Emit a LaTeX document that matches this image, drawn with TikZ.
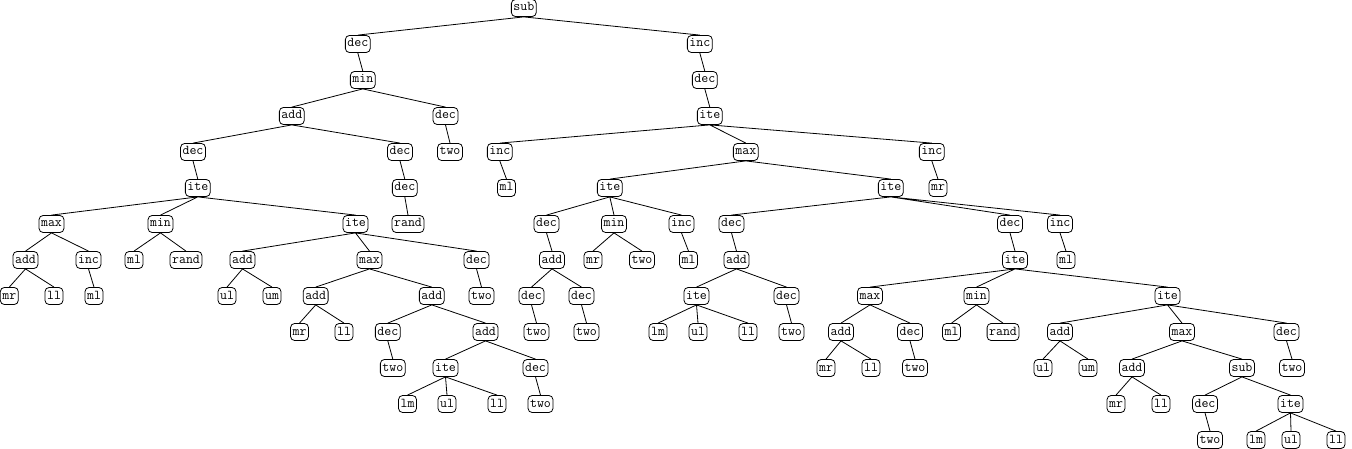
\documentclass[tikz,border=0pt]{standalone}
\usepackage{tikz}

\begin{document}
\begin{tikzpicture}[
  x=1pt, y=-1pt,
  font=\fontsize{13.5}{14}\selectfont\ttfamily,
  fn/.style={draw,rounded corners=4pt,line width=0.8pt,inner xsep=2pt,inner ysep=0pt,minimum height=17pt,text height=8.5pt,text depth=2.5pt},
  link/.style={line width=0.8pt}
]
\useasboundingbox (0,0) rectangle (1352,449);
\node[fn] (sub1) at (523.8,8) {sub};
\node[fn] (dec1) at (357.8,44) {dec};
\node[fn] (min1) at (362.8,80) {min};
\node[fn] (add1) at (291.8,116) {add};
\node[fn] (dec2) at (193,152) {dec};
\node[fn] (ite1) at (197.8,188) {ite};
\node[fn] (max1) at (51.5,224) {max};
\node[fn] (add2) at (25.5,260) {add};
\node[fn] (mr1) at (9.3,296) {mr};
\node[fn] (ll1) at (54,296) {ll};
\node[fn] (inc1) at (88.5,260) {inc};
\node[fn] (ml1) at (94,296) {ml};
\node[fn] (min2) at (160.5,224) {min};
\node[fn] (ml2) at (134,260) {ml};
\node[fn] (rand1) at (186,260) {rand};
\node[fn] (ite2) at (355.5,224) {ite};
\node[fn] (add3) at (242.5,260) {add};
\node[fn] (ul1) at (227,296) {ul};
\node[fn] (um1) at (272,296) {um};
\node[fn] (max2) at (369.5,260) {max};
\node[fn] (add4) at (315.7,296) {add};
\node[fn] (mr2) at (299.5,332) {mr};
\node[fn] (ll2) at (344,332) {ll};
\node[fn] (add5) at (431.8,296) {add};
\node[fn] (dec3) at (387.8,332) {dec};
\node[fn] (two1) at (392.8,368) {two};
\node[fn] (add6) at (485.5,332) {add};
\node[fn] (ite3) at (445.5,368) {ite};
\node[fn] (lm1) at (407.5,404) {lm};
\node[fn] (ul2) at (447,404) {ul};
\node[fn] (ll3) at (497,404) {ll};
\node[fn] (dec4) at (535.5,368) {dec};
\node[fn] (two2) at (540.5,404) {two};
\node[fn] (dec5) at (476.5,260) {dec};
\node[fn] (two3) at (481.5,296) {two};
\node[fn] (dec6) at (400,152) {dec};
\node[fn] (dec7) at (404.8,188) {dec};
\node[fn] (rand2) at (408,224) {rand};
\node[fn] (dec8) at (445.5,116) {dec};
\node[fn] (two4) at (450,152) {two};
\node[fn] (inc2) at (699.8,44) {inc};
\node[fn] (dec9) at (704.8,80) {dec};
\node[fn] (ite4) at (709.8,116) {ite};
\node[fn] (inc3) at (499.8,152) {inc};
\node[fn] (ml3) at (506.5,188) {ml};
\node[fn] (max3) at (745.8,152) {max};
\node[fn] (ite5) at (609.8,188) {ite};
\node[fn] (dec10) at (546.5,224) {dec};
\node[fn] (add7) at (552,260) {add};
\node[fn] (dec11) at (531.5,296) {dec};
\node[fn] (two5) at (536.5,332) {two};
\node[fn] (dec12) at (581.5,296) {dec};
\node[fn] (two6) at (586.5,332) {two};
\node[fn] (min3) at (614,224) {min};
\node[fn] (mr3) at (593,260) {mr};
\node[fn] (two7) at (642,260) {two};
\node[fn] (inc4) at (681.5,224) {inc};
\node[fn] (ml4) at (688.5,260) {ml};
\node[fn] (ite6) at (890.8,188) {ite};
\node[fn] (dec13) at (731.5,224) {dec};
\node[fn] (add8) at (736.5,260) {add};
\node[fn] (ite7) at (696.5,296) {ite};
\node[fn] (lm2) at (658,332) {lm};
\node[fn] (ul3) at (698,332) {ul};
\node[fn] (ll4) at (748,332) {ll};
\node[fn] (dec14) at (786.5,296) {dec};
\node[fn] (two8) at (791.5,332) {two};
\node[fn] (dec15) at (1010,224) {dec};
\node[fn] (ite8) at (1015,260) {ite};
\node[fn] (max4) at (870,296) {max};
\node[fn] (add9) at (841,332) {add};
\node[fn] (mr4) at (826,368) {mr};
\node[fn] (ll5) at (871,368) {ll};
\node[fn] (dec16) at (910,332) {dec};
\node[fn] (two9) at (915,368) {two};
\node[fn] (min4) at (976.5,296) {min};
\node[fn] (ml5) at (951.5,332) {ml};
\node[fn] (rand3) at (1003,332) {rand};
\node[fn] (ite9) at (1167.5,296) {ite};
\node[fn] (add10) at (1060,332) {add};
\node[fn] (ul4) at (1043,368) {ul};
\node[fn] (um2) at (1088,368) {um};
\node[fn] (max5) at (1182,332) {max};
\node[fn] (add11) at (1132,368) {add};
\node[fn] (mr5) at (1116,404) {mr};
\node[fn] (ll6) at (1161,404) {ll};
\node[fn] (sub2) at (1242,368) {sub};
\node[fn] (dec17) at (1205,404) {dec};
\node[fn] (two10) at (1210,440) {two};
\node[fn] (ite10) at (1290.5,404) {ite};
\node[fn] (lm3) at (1256,440) {lm};
\node[fn] (ul5) at (1291,440) {ul};
\node[fn] (ll7) at (1336,440) {ll};
\node[fn] (dec18) at (1286.5,332) {dec};
\node[fn] (two11) at (1292,368) {two};
\node[fn] (inc5) at (1060,224) {inc};
\node[fn] (ml6) at (1066,260) {ml};
\node[fn] (inc6) at (931.8,152) {inc};
\node[fn] (mr6) at (938,188) {mr};
\draw[link] (sub1.south) -- (dec1.north) (sub1.south) -- (inc2.north);
\draw[link] (dec1.south) -- (min1.north);
\draw[link] (min1.south) -- (add1.north) (min1.south) -- (dec8.north);
\draw[link] (add1.south) -- (dec2.north) (add1.south) -- (dec6.north);
\draw[link] (dec2.south) -- (ite1.north);
\draw[link] (ite1.south) -- (max1.north) (ite1.south) -- (min2.north) (ite1.south) -- (ite2.north);
\draw[link] (max1.south) -- (add2.north) (max1.south) -- (inc1.north);
\draw[link] (add2.south) -- (mr1.north) (add2.south) -- (ll1.north);
\draw[link] (inc1.south) -- (ml1.north);
\draw[link] (min2.south) -- (ml2.north) (min2.south) -- (rand1.north);
\draw[link] (ite2.south) -- (add3.north) (ite2.south) -- (max2.north) (ite2.south) -- (dec5.north);
\draw[link] (add3.south) -- (ul1.north) (add3.south) -- (um1.north);
\draw[link] (max2.south) -- (add4.north) (max2.south) -- (add5.north);
\draw[link] (add4.south) -- (mr2.north) (add4.south) -- (ll2.north);
\draw[link] (add5.south) -- (dec3.north) (add5.south) -- (add6.north);
\draw[link] (dec3.south) -- (two1.north);
\draw[link] (add6.south) -- (ite3.north) (add6.south) -- (dec4.north);
\draw[link] (ite3.south) -- (lm1.north) (ite3.south) -- (ul2.north) (ite3.south) -- (ll3.north);
\draw[link] (dec4.south) -- (two2.north);
\draw[link] (dec5.south) -- (two3.north);
\draw[link] (dec6.south) -- (dec7.north);
\draw[link] (dec7.south) -- (rand2.north);
\draw[link] (dec8.south) -- (two4.north);
\draw[link] (inc2.south) -- (dec9.north);
\draw[link] (dec9.south) -- (ite4.north);
\draw[link] (ite4.south) -- (inc3.north) (ite4.south) -- (max3.north) (ite4.south) -- (inc6.north);
\draw[link] (inc3.south) -- (ml3.north);
\draw[link] (max3.south) -- (ite5.north) (max3.south) -- (ite6.north);
\draw[link] (ite5.south) -- (dec10.north) (ite5.south) -- (min3.north) (ite5.south) -- (inc4.north);
\draw[link] (dec10.south) -- (add7.north);
\draw[link] (add7.south) -- (dec11.north) (add7.south) -- (dec12.north);
\draw[link] (dec11.south) -- (two5.north);
\draw[link] (dec12.south) -- (two6.north);
\draw[link] (min3.south) -- (mr3.north) (min3.south) -- (two7.north);
\draw[link] (inc4.south) -- (ml4.north);
\draw[link] (ite6.south) -- (dec13.north) (ite6.south) -- (dec15.north) (ite6.south) -- (inc5.north);
\draw[link] (dec13.south) -- (add8.north);
\draw[link] (add8.south) -- (ite7.north) (add8.south) -- (dec14.north);
\draw[link] (ite7.south) -- (lm2.north) (ite7.south) -- (ul3.north) (ite7.south) -- (ll4.north);
\draw[link] (dec14.south) -- (two8.north);
\draw[link] (dec15.south) -- (ite8.north);
\draw[link] (ite8.south) -- (max4.north) (ite8.south) -- (min4.north) (ite8.south) -- (ite9.north);
\draw[link] (max4.south) -- (add9.north) (max4.south) -- (dec16.north);
\draw[link] (add9.south) -- (mr4.north) (add9.south) -- (ll5.north);
\draw[link] (dec16.south) -- (two9.north);
\draw[link] (min4.south) -- (ml5.north) (min4.south) -- (rand3.north);
\draw[link] (ite9.south) -- (add10.north) (ite9.south) -- (max5.north) (ite9.south) -- (dec18.north);
\draw[link] (add10.south) -- (ul4.north) (add10.south) -- (um2.north);
\draw[link] (max5.south) -- (add11.north) (max5.south) -- (sub2.north);
\draw[link] (add11.south) -- (mr5.north) (add11.south) -- (ll6.north);
\draw[link] (sub2.south) -- (dec17.north) (sub2.south) -- (ite10.north);
\draw[link] (dec17.south) -- (two10.north);
\draw[link] (ite10.south) -- (lm3.north) (ite10.south) -- (ul5.north) (ite10.south) -- (ll7.north);
\draw[link] (dec18.south) -- (two11.north);
\draw[link] (inc5.south) -- (ml6.north);
\draw[link] (inc6.south) -- (mr6.north);
\end{tikzpicture}
\end{document}
